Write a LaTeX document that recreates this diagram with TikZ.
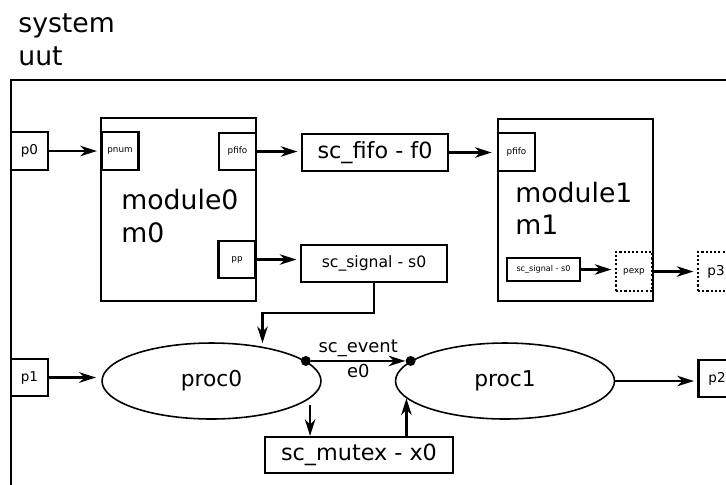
\documentclass[tikz,border=0pt]{standalone}
\usepackage{fontspec}
\setmainfont{DejaVu Sans}
\usetikzlibrary{arrows.meta,shapes.geometric}
\def\fs#1{\fontsize{#1pt}{#1pt}\selectfont}

\begin{document}
\begin{tikzpicture}[x=0.02cm,y=-0.02cm,
	blk/.style={draw,line width=1.25pt,inner sep=0pt,fill=white},
	port/.style={blk,minimum width=0.74cm,minimum height=0.75cm,font=\fs{5}},
	ioport/.style={blk,minimum width=0.74cm,minimum height=0.75cm,font=\fs{7.7}},
	expport/.style={port,dash pattern=on 1.2pt off 1.2pt,minimum width=0.72cm,minimum height=0.78cm},
	modbox/.style={blk,minimum width=3.1cm,minimum height=3.65cm},
	chan/.style={blk,minimum width=2.92cm,minimum height=0.74cm},
	proc/.style={ellipse,draw,line width=0.9pt,inner sep=0pt,minimum width=4.38cm,minimum height=1.52cm,font=\fs{12.4}},
	evdot/.style={circle,fill,inner sep=0pt,minimum size=0.2cm},
	lbl/.style={inner sep=0pt,anchor=base west,font=\fs{15.2}},
	arr/.style={-{Stealth[length=9.5pt,width=6pt,inset=3pt]},line width=1.25pt}]
	\useasboundingbox (0,0) rectangle (726,484);
	\clip (0,0) rectangle (726,484);
	% system and top module
	\node[lbl] (sysname) at (18,32) {system};
	\node[lbl] (uutname) at (18,65) {uut};
	\draw[line width=1.25pt] (11,80) rectangle (760,520);
	
	% module0
	\node[modbox] (m0) at (178.5,209.5) {};
	\node[lbl] (m0name) at (121,209) {module0};
	\node[lbl] (m0inst) at (121,242) {m0};
	\node[port] (pnum) at (120,151) {pnum};
	\node[port] (pfifoA) at (237.5,151.5) {pfifo};
	\node[port] (pp) at (237,259.5) {pp};
	
	% module1
	\node[modbox] (m1) at (575.5,210) {};
	\node[lbl] (m1name) at (515,202) {module1};
	\node[lbl] (m1inst) at (515,234) {m1};
	\node[port] (pfifoB) at (516.5,152) {pfifo};
	\node[blk,line width=0.7pt,minimum width=1.46cm,minimum height=0.46cm,font=\fs{4.6}] (s0in) at (543.5,269.5) {sc\_signal - s0};
	\node[expport] (pexp) at (634,271.5) {pexp};
	
	% ports of uut
	\node[ioport] (p0) at (29.5,151) {p0};
	\node[ioport] (p1) at (29.5,377.5) {p1};
	\node[ioport] (p2) at (717,378.5) {p2};
	\node[expport,font=\fs{7.7}] (p3) at (716,271.5) {p3};
	
	% channels
	\node[chan,font=\fs{12.7}] (f0) at (375,152.5) {sc\_fifo - f0};
	\node[chan,font=\fs{8.9}] (s0) at (374,263.5) {sc\_signal - s0};
	\node[blk,minimum width=3.76cm,minimum height=0.72cm,font=\fs{12.7}] (x0) at (359,455) {sc\_mutex - x0};
	
	% processes
	\node[proc] (proc0) at (211.5,381) {proc0};
	\node[proc] (proc1) at (505,381) {proc1};
	\node[evdot] (d0) at (proc0.12) {};
	\node[evdot] (d1) at (proc1.168) {};
	
	% bindings
	\draw[arr,shorten >=2pt] (p0.east) -- (p0.east -| pnum.west);
	\draw[arr,shorten >=2pt] (pfifoA.east) -- (pfifoA.east -| f0.west);
	\draw[arr,shorten >=3pt] (f0.east) -- (f0.east -| pfifoB.west);
	\draw[arr,shorten >=2pt] (pp.east) -- (pp.east -| s0.west);
	\draw[arr,shorten >=2pt] (s0.south) -- ++(0,29.5) -| (proc0.34);
	\draw[arr,shorten >=3pt] (p1.east) -- (p1.east -| proc0.west);
	\draw[arr,shorten >=2pt] (proc1.east) -- (proc1.east -| p2.west);
	\draw[arr,shorten >=2pt] (s0in.east) -- (s0in.east -| pexp.west);
	\draw[arr,shorten >=2pt] (pexp.east) -- (pexp.east -| p3.west);
	\draw[arr] (d0) -- (d1)
		node[midway,above=2pt,inner sep=0pt,font=\fs{10.2}] {sc\_event}
		node[midway,below=1.5pt,inner sep=0pt,font=\fs{10.2}] {e0};
	\draw[arr,shorten <=4pt] (proc0.-10) -- (proc0.-10 |- x0.north);
	\draw[arr] (proc1.190 |- x0.north) -- (proc1.190);
\end{tikzpicture}
\end{document}
